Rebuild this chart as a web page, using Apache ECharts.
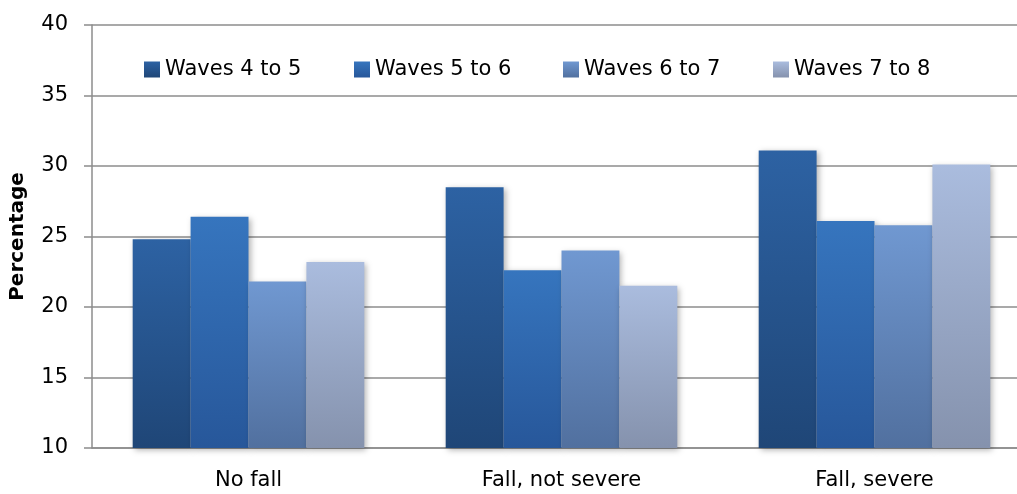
<!DOCTYPE html>
<html>
<head>
<meta charset="utf-8">
<script src="https://cdn.jsdelivr.net/npm/echarts@6/dist/echarts.min.js"></script>
<style>
	html, body { margin: 0; padding: 0; background: #fff; }
	#chart { width: 1017px; height: 494px; }
</style>
</head>
<body>
<div id="chart"></div>
<script>
const categories = ["No fall", "Fall, not severe", "Fall, severe"];
const seriesNames = ["Waves 4 to 5", "Waves 5 to 6", "Waves 6 to 7", "Waves 7 to 8"];
const waves45 = [24.8, 28.5, 31.1];
const waves56 = [26.4, 22.6, 26.1];
const waves67 = [21.8, 24.0, 25.8];
const waves78 = [23.2, 21.5, 30.1];
const yTicks = [10, 40, 5]; // min, max, interval

const values = [waves45, waves56, waves67, waves78];
// top / bottom shade for each series
const shades = [
	["#2d62a3", "#1f4677"],
	["#3675be", "#27579a"],
	["#7098d1", "#51709f"],
	["#aabcde", "#8592ad"],
];
// left edge of each legend entry
const legendLeft = [144, 354, 563, 773];

const font = "'DejaVu Sans', sans-serif";
const myChart = echarts.init(document.getElementById("chart"), null, { renderer: "canvas" });

const series = seriesNames.map((name, i) => ({
	type: "bar",
	name: name,
	data: values[i],
	barGap: 0,
	barCategoryGap: "26%",
	itemStyle: {
		color: new echarts.graphic.LinearGradient(0, 0, 0, 1, [
			{ offset: 0, color: shades[i][0] },
			{ offset: 1, color: shades[i][1] },
		]),
		shadowBlur: 6,
		shadowColor: "rgba(0,0,0,0.3)",
		shadowOffsetX: 2,
		shadowOffsetY: 2,
	},
}));

// one legend per entry so the spacing can follow the picture
const legends = seriesNames.map((name, i) => ({
	left: legendLeft[i],
	top: 59,
	padding: 0,
	itemWidth: 16,
	itemHeight: 16,
	icon: "rect",
	data: [name],
	textStyle: { fontFamily: font, fontSize: 21, color: "#000" },
}));

myChart.setOption({
	animation: false,
	backgroundColor: "#fff",
	grid: { left: 92, top: 25, width: 939, height: 423, outerBoundsMode: "none", containLabel: false },
	legend: legends,
	xAxis: {
		type: "category",
		data: categories,
		axisTick: { show: false },
		axisLine: { lineStyle: { color: "#8c8c8c", width: 1.5 } },
		axisLabel: { fontFamily: font, fontSize: 21, color: "#000", margin: 22 },
	},
	yAxis: {
		type: "value",
		min: yTicks[0],
		max: yTicks[1],
		interval: yTicks[2],
		name: "Percentage",
		nameLocation: "middle",
		nameGap: 64,
		nameTextStyle: { fontFamily: font, fontSize: 20, fontWeight: "bold", color: "#000" },
		axisLine: { show: true, lineStyle: { color: "#8c8c8c", width: 1.5 } },
		axisTick: { show: true, length: 8, lineStyle: { color: "#8c8c8c", width: 1.5 } },
		splitLine: { lineStyle: { color: "#8c8c8c", width: 1.5 } },
		axisLabel: { fontFamily: font, fontSize: 21, color: "#000", margin: 24 },
	},
	series: series,
});
</script>
</body>
</html>
